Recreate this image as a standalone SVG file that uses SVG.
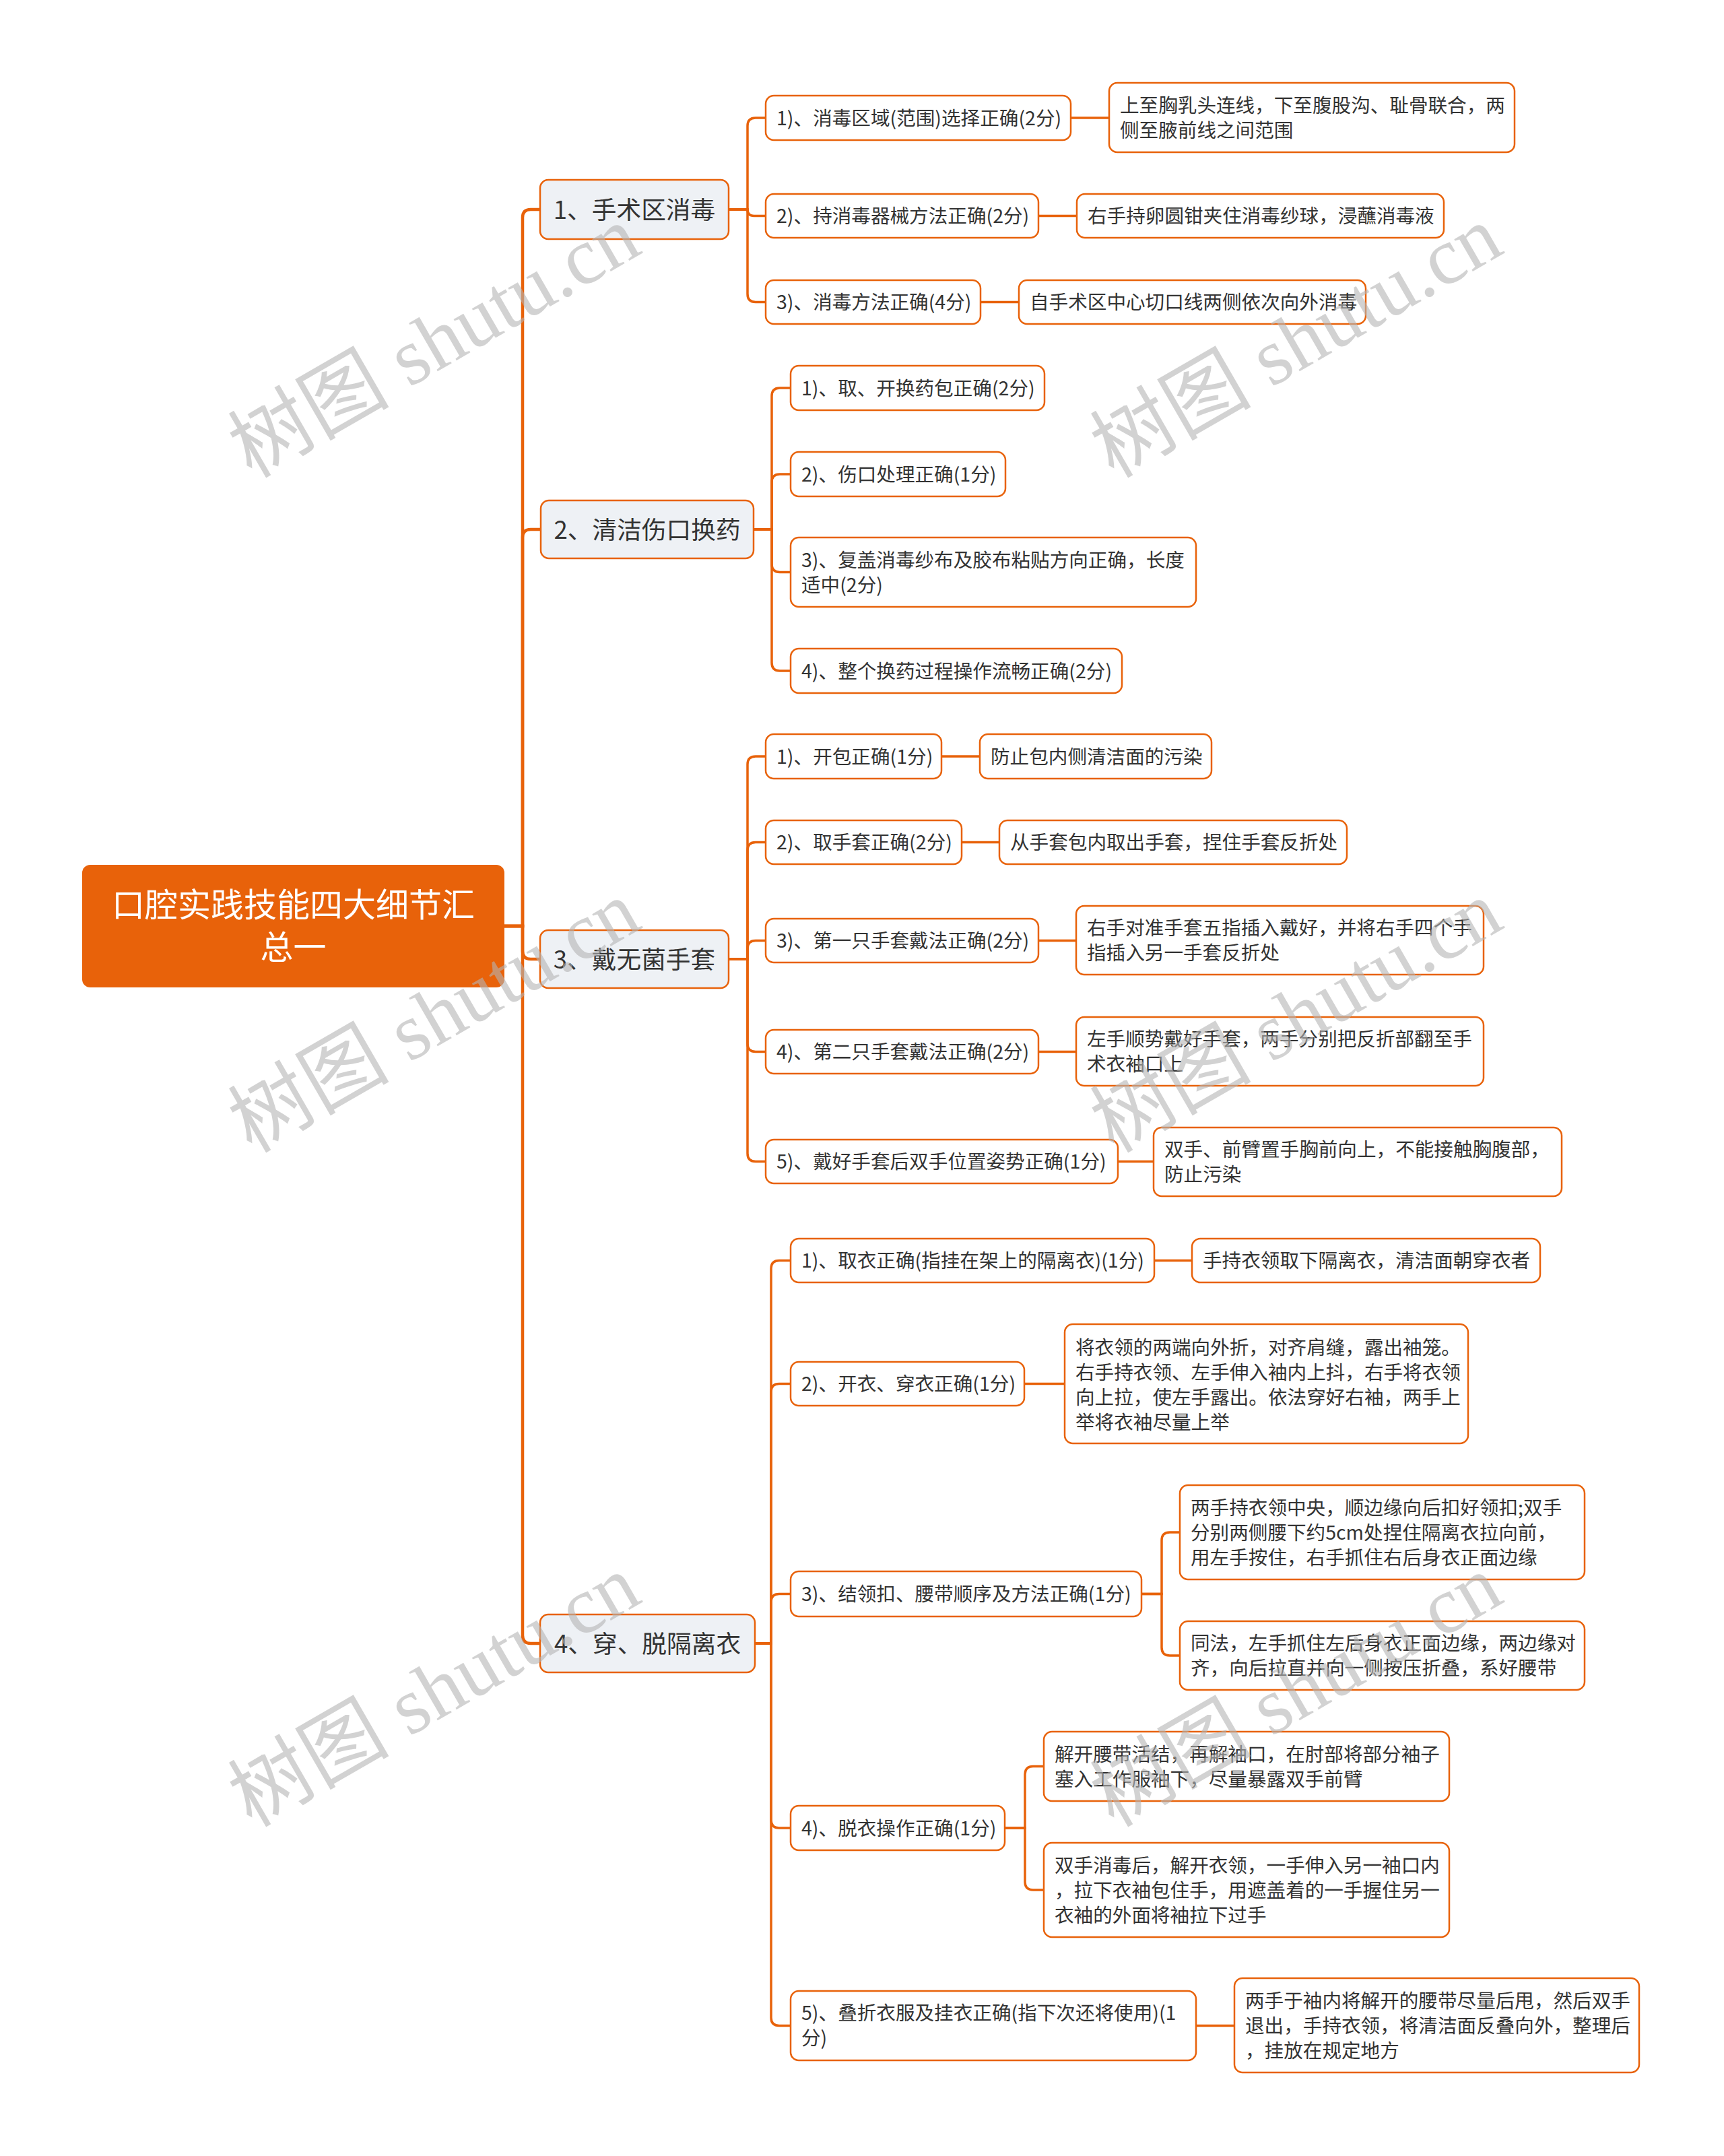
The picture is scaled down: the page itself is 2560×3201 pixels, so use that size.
<svg xmlns="http://www.w3.org/2000/svg" width="2560" height="3201" viewBox="0 0 2560 3201">
<style>
text{font-family:"Noto Sans CJK SC","Noto Sans",sans-serif;fill:#333333}
.t0{font-size:49px;fill:#ffffff;text-anchor:middle}
.t1{font-size:36.7px;text-anchor:middle}
.t2{font-size:28.6px}
.n0{fill:#E8620A}
.n1{fill:#EEF1F5;stroke:#E8620A;stroke-width:2.5}
.n2{fill:#ffffff;stroke:#E8620A;stroke-width:2.5}
.c1 path{fill:none;stroke:#E8620A;stroke-width:4.5}
.c2 path{fill:none;stroke:#E8620A;stroke-width:3.5}
.wm text{font-family:"Liberation Serif","Noto Sans CJK SC",serif;font-size:120px;fill:#b4b4b4;fill-opacity:0.6;text-anchor:middle}
</style>
<rect width="2560" height="3201" fill="#ffffff"/>
<g id="connectors">
<g class="c1">
<path d="M749,1375 H776 V323 Q776,311 788,311 H802"/>
<path d="M749,1375 H776 V798 Q776,786 788,786 H803"/>
<path d="M749,1375 H776 V1412 Q776,1424 788,1424 H802"/>
<path d="M749,1375 H776 V2428 Q776,2440 788,2440 H802"/>
</g>
<g class="c2">
<path d="M1082,311 H1110 V187 Q1110,175 1122,175 H1137"/>
<path d="M1082,311 H1110 Q1110,320.5 1119.5,320.5 H1137"/>
<path d="M1082,311 H1110 V436.5 Q1110,448.5 1122,448.5 H1137"/>
<path d="M1590,175 H1647"/>
<path d="M1542,320.5 H1599"/>
<path d="M1456,448.5 H1513"/>
<path d="M1119,786 H1146 V588 Q1146,576 1158,576 H1174"/>
<path d="M1119,786 H1146 V716 Q1146,704 1158,704 H1174"/>
<path d="M1119,786 H1146 V837.5 Q1146,849.5 1158,849.5 H1174"/>
<path d="M1119,786 H1146 V984 Q1146,996 1158,996 H1174"/>
<path d="M1082,1424 H1110 V1135 Q1110,1123 1122,1123 H1137"/>
<path d="M1082,1424 H1110 V1262.5 Q1110,1250.5 1122,1250.5 H1137"/>
<path d="M1082,1424 H1110 V1408.5 Q1110,1396.5 1122,1396.5 H1137"/>
<path d="M1082,1424 H1110 V1549.5 Q1110,1561.5 1122,1561.5 H1137"/>
<path d="M1082,1424 H1110 V1712.5 Q1110,1724.5 1122,1724.5 H1137"/>
<path d="M1398,1123 H1455"/>
<path d="M1428,1250.5 H1484"/>
<path d="M1542,1396.5 H1598"/>
<path d="M1542,1561.5 H1598"/>
<path d="M1660,1724.5 H1713"/>
<path d="M1121,2440 H1145 V1883.5 Q1145,1871.5 1157,1871.5 H1174"/>
<path d="M1121,2440 H1145 V2066.5 Q1145,2054.5 1157,2054.5 H1174"/>
<path d="M1121,2440 H1145 V2378.5 Q1145,2366.5 1157,2366.5 H1174"/>
<path d="M1121,2440 H1145 V2702 Q1145,2714 1157,2714 H1174"/>
<path d="M1121,2440 H1145 V2995.5 Q1145,3007.5 1157,3007.5 H1174"/>
<path d="M1714,1871.5 H1770"/>
<path d="M1521,2054.5 H1581"/>
<path d="M1695,2366.5 H1725 V2287 Q1725,2275 1737,2275 H1752"/>
<path d="M1695,2366.5 H1725 V2446 Q1725,2458 1737,2458 H1752"/>
<path d="M1492,2714 H1522 V2634.5 Q1522,2622.5 1534,2622.5 H1550"/>
<path d="M1492,2714 H1522 V2794 Q1522,2806 1534,2806 H1550"/>
<path d="M1776,3007.5 H1833"/>
</g>
</g>
<g id="root"><rect class="n0" x="122" y="1284" width="627" height="182" rx="12"/><text class="t0"><tspan x="435.5" y="1361">口腔实践技能四大细节汇</tspan><tspan x="435.5" y="1424">总一</tspan></text></g>
<g id="n1"><rect class="n1" x="802" y="267" width="280" height="88" rx="12"/><text class="t1" x="942" y="325">1、手术区消毒</text></g>
<g id="n2"><rect class="n1" x="803" y="743" width="316" height="86" rx="12"/><text class="t1" x="961" y="800">2、清洁伤口换药</text></g>
<g id="n3"><rect class="n1" x="802" y="1381" width="280" height="86" rx="12"/><text class="t1" x="942" y="1438">3、戴无菌手套</text></g>
<g id="n4"><rect class="n1" x="802" y="2397" width="319" height="86" rx="12"/><text class="t1" x="961.5" y="2454">4、穿、脱隔离衣</text></g>
<g id="n1-1"><rect class="n2" x="1137" y="142" width="453" height="66" rx="12"/><text class="t2" x="1153" y="186">1)、消毒区域(范围)选择正确(2分)</text></g>
<g id="n1-1-1"><rect class="n2" x="1647" y="123" width="602" height="103" rx="12"/><text class="t2"><tspan x="1663" y="167">上至胸乳头连线，下至腹股沟、耻骨联合，两</tspan><tspan x="1663" y="204">侧至腋前线之间范围</tspan></text></g>
<g id="n1-2"><rect class="n2" x="1137" y="288" width="405" height="65" rx="12"/><text class="t2" x="1153" y="331">2)、持消毒器械方法正确(2分)</text></g>
<g id="n1-2-1"><rect class="n2" x="1599" y="288" width="545" height="65" rx="12"/><text class="t2" x="1615" y="331">右手持卵圆钳夹住消毒纱球，浸蘸消毒液</text></g>
<g id="n1-3"><rect class="n2" x="1137" y="416" width="319" height="65" rx="12"/><text class="t2" x="1153" y="459">3)、消毒方法正确(4分)</text></g>
<g id="n1-3-1"><rect class="n2" x="1513" y="416" width="515" height="65" rx="12"/><text class="t2" x="1529" y="459">自手术区中心切口线两侧依次向外消毒</text></g>
<g id="n2-1"><rect class="n2" x="1174" y="543" width="377" height="66" rx="12"/><text class="t2" x="1190" y="587">1)、取、开换药包正确(2分)</text></g>
<g id="n2-2"><rect class="n2" x="1174" y="671" width="319" height="66" rx="12"/><text class="t2" x="1190" y="715">2)、伤口处理正确(1分)</text></g>
<g id="n2-3"><rect class="n2" x="1174" y="798" width="602" height="103" rx="12"/><text class="t2"><tspan x="1190" y="842">3)、复盖消毒纱布及胶布粘贴方向正确，长度</tspan><tspan x="1190" y="879">适中(2分)</tspan></text></g>
<g id="n2-4"><rect class="n2" x="1174" y="963" width="492" height="66" rx="12"/><text class="t2" x="1190" y="1007">4)、整个换药过程操作流畅正确(2分)</text></g>
<g id="n3-1"><rect class="n2" x="1137" y="1090" width="261" height="66" rx="12"/><text class="t2" x="1153" y="1134">1)、开包正确(1分)</text></g>
<g id="n3-1-1"><rect class="n2" x="1455" y="1090" width="344" height="66" rx="12"/><text class="t2" x="1471" y="1134">防止包内侧清洁面的污染</text></g>
<g id="n3-2"><rect class="n2" x="1137" y="1218" width="291" height="65" rx="12"/><text class="t2" x="1153" y="1261">2)、取手套正确(2分)</text></g>
<g id="n3-2-1"><rect class="n2" x="1484" y="1218" width="516" height="65" rx="12"/><text class="t2" x="1500" y="1261">从手套包内取出手套，捏住手套反折处</text></g>
<g id="n3-3"><rect class="n2" x="1137" y="1364" width="405" height="65" rx="12"/><text class="t2" x="1153" y="1407">3)、第一只手套戴法正确(2分)</text></g>
<g id="n3-3-1"><rect class="n2" x="1598" y="1345" width="605" height="102" rx="12"/><text class="t2"><tspan x="1614" y="1388">右手对准手套五指插入戴好，并将右手四个手</tspan><tspan x="1614" y="1425">指插入另一手套反折处</tspan></text></g>
<g id="n3-4"><rect class="n2" x="1137" y="1529" width="405" height="65" rx="12"/><text class="t2" x="1153" y="1572">4)、第二只手套戴法正确(2分)</text></g>
<g id="n3-4-1"><rect class="n2" x="1598" y="1510" width="605" height="102" rx="12"/><text class="t2"><tspan x="1614" y="1553">左手顺势戴好手套，两手分别把反折部翻至手</tspan><tspan x="1614" y="1590">术衣袖口上</tspan></text></g>
<g id="n3-5"><rect class="n2" x="1137" y="1692" width="523" height="65" rx="12"/><text class="t2" x="1153" y="1735">5)、戴好手套后双手位置姿势正确(1分)</text></g>
<g id="n3-5-1"><rect class="n2" x="1713" y="1674" width="606" height="102" rx="12"/><text class="t2"><tspan x="1729" y="1717">双手、前臂置手胸前向上，不能接触胸腹部，</tspan><tspan x="1729" y="1754">防止污染</tspan></text></g>
<g id="n4-1"><rect class="n2" x="1174" y="1839" width="540" height="65" rx="12"/><text class="t2" x="1190" y="1882">1)、取衣正确(指挂在架上的隔离衣)(1分)</text></g>
<g id="n4-1-1"><rect class="n2" x="1770" y="1839" width="517" height="65" rx="12"/><text class="t2" x="1786" y="1882">手持衣领取下隔离衣，清洁面朝穿衣者</text></g>
<g id="n4-2"><rect class="n2" x="1174" y="2022" width="347" height="65" rx="12"/><text class="t2" x="1190" y="2065">2)、开衣、穿衣正确(1分)</text></g>
<g id="n4-2-1"><rect class="n2" x="1581" y="1966" width="599" height="177" rx="12"/><text class="t2"><tspan x="1597" y="2011">将衣领的两端向外折，对齐肩缝，露出袖笼。</tspan><tspan x="1597" y="2048">右手持衣领、左手伸入袖内上抖，右手将衣领</tspan><tspan x="1597" y="2085">向上拉，使左手露出。依法穿好右袖，两手上</tspan><tspan x="1597" y="2122">举将衣袖尽量上举</tspan></text></g>
<g id="n4-3"><rect class="n2" x="1174" y="2333" width="521" height="67" rx="12"/><text class="t2" x="1190" y="2377">3)、结领扣、腰带顺序及方法正确(1分)</text></g>
<g id="n4-3-1"><rect class="n2" x="1752" y="2205" width="601" height="140" rx="12"/><text class="t2"><tspan x="1768" y="2249">两手持衣领中央，顺边缘向后扣好领扣;双手</tspan><tspan x="1768" y="2286">分别两侧腰下约5cm处捏住隔离衣拉向前，</tspan><tspan x="1768" y="2323">用左手按住，右手抓住右后身衣正面边缘</tspan></text></g>
<g id="n4-3-2"><rect class="n2" x="1752" y="2407" width="601" height="102" rx="12"/><text class="t2"><tspan x="1768" y="2450">同法，左手抓住左后身衣正面边缘，两边缘对</tspan><tspan x="1768" y="2487">齐，向后拉直并向一侧按压折叠，系好腰带</tspan></text></g>
<g id="n4-4"><rect class="n2" x="1174" y="2681" width="318" height="66" rx="12"/><text class="t2" x="1190" y="2725">4)、脱衣操作正确(1分)</text></g>
<g id="n4-4-1"><rect class="n2" x="1550" y="2571" width="602" height="103" rx="12"/><text class="t2"><tspan x="1566" y="2615">解开腰带活结，再解袖口，在肘部将部分袖子</tspan><tspan x="1566" y="2652">塞入工作服袖下，尽量暴露双手前臂</tspan></text></g>
<g id="n4-4-2"><rect class="n2" x="1550" y="2736" width="602" height="140" rx="12"/><text class="t2"><tspan x="1566" y="2780">双手消毒后，解开衣领，一手伸入另一袖口内</tspan><tspan x="1566" y="2817">，拉下衣袖包住手，用遮盖着的一手握住另一</tspan><tspan x="1566" y="2854">衣袖的外面将袖拉下过手</tspan></text></g>
<g id="n4-5"><rect class="n2" x="1174" y="2956" width="602" height="103" rx="12"/><text class="t2"><tspan x="1190" y="2999">5)、叠折衣服及挂衣正确(指下次还将使用)(1</tspan><tspan x="1190" y="3036">分)</tspan></text></g>
<g id="n4-5-1"><rect class="n2" x="1833" y="2937" width="601" height="140" rx="12"/><text class="t2"><tspan x="1849" y="2981">两手于袖内将解开的腰带尽量后甩，然后双手</tspan><tspan x="1849" y="3018">退出，手持衣领，将清洁面反叠向外，整理后</tspan><tspan x="1849" y="3055">，挂放在规定地方</tspan></text></g>
<g class="wm" id="watermark">
<text transform="translate(645,508) rotate(-30)" y="40">树图 shutu.cn</text>
<text transform="translate(1925,508) rotate(-30)" y="40">树图 shutu.cn</text>
<text transform="translate(645,1510) rotate(-30)" y="40">树图 shutu.cn</text>
<text transform="translate(1925,1510) rotate(-30)" y="40">树图 shutu.cn</text>
<text transform="translate(645,2511) rotate(-30)" y="40">树图 shutu.cn</text>
<text transform="translate(1925,2511) rotate(-30)" y="40">树图 shutu.cn</text>
</g>
</svg>
